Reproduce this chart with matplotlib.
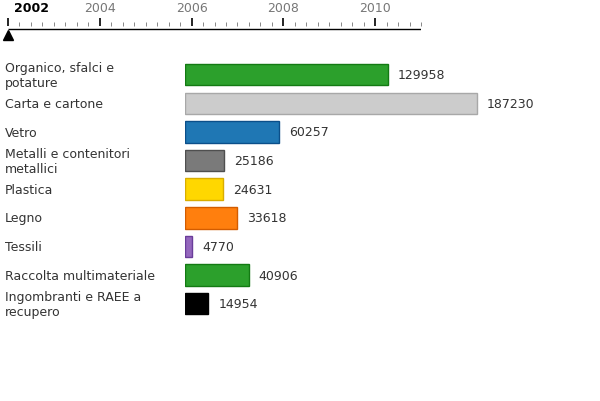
import matplotlib.pyplot as plt
import numpy as np

# dati
categorie = ["Organico, sfalci e\npotature", "Carta e cartone", "Vetro",
             "Metalli e contenitori\nmetallici", "Plastica", "Legno", "Tessili",
             "Raccolta multimateriale", "Ingombranti e RAEE a\nrecupero"]
valori = [129958, 187230, 60257, 25186, 24631, 33618, 4770, 40906, 14954]
colori = ["#2ca02c", "#cccccc", "#1f77b4", "#7a7a7a", "#ffd700", "#ff7f0e",
          "#9467bd", "#2ca02c", "#000000"]
bordi = ["#137a13", "#a8a8a8", "#0b4f8a", "#4f4f4f", "#d9ad00", "#d35c00",
         "#6a3d9a", "#137a13", "#000000"]
anni = [2002, 2004, 2006, 2008, 2010]
anno_corrente = 2002
anno_min, anno_max = 2002, 2011

W, H = 600, 402
fig = plt.figure(figsize=(W / 100, H / 100), dpi=100)

# timeline in alto
tl = fig.add_axes([8 / W, 1 - 45 / H, 413 / W, 45 / H])
tl.set_xlim(anno_min, anno_max)
tl.set_ylim(45, 0)
tl.axis("off")
tl.plot([anno_min, anno_max], [29.5, 29.5], color="black", lw=1.0, solid_capstyle="butt")
quarti = np.arange(anno_min, anno_max + 0.01, 0.25)
for q in quarti:
    if abs(q - round(q)) < 1e-6 and int(round(q)) % 2 == 0:
        tl.plot([q, q], [19, 27], color="black", lw=1.2, clip_on=False,
                solid_capstyle="butt")
    else:
        tl.plot([q, q], [23, 26.5], color="#888888", lw=0.7, clip_on=False,
                solid_capstyle="butt")
for a in anni:
    if a == anno_corrente:
        # l'etichetta dell'anno corrente e' spostata a destra
        tl.text(a + 0.13, 8.5, str(a), ha="left", va="center", fontsize=9,
                fontweight="bold", color="black")
    else:
        tl.text(a, 8.5, str(a), ha="center", va="center", fontsize=9, color="#777777")
tl.plot([anno_corrente], [35.5], marker="^", color="black", markersize=7, clip_on=False)

# barre
scala = 292 / max(valori)
larg_px = 400
ax = fig.add_axes([185 / W, 1 - 319 / H, larg_px / W, (9 * 28.625) / H])
ax.set_xlim(0, larg_px / scala)
ax.set_ylim(8.5, -0.5)
ax.axis("off")
y = np.arange(len(valori))
ax.barh(y, valori, height=0.75, color=colori, edgecolor=bordi, linewidth=1)
for i, v in enumerate(valori):
    ax.text(v + 10 / scala, i, str(v), va="center", ha="left", fontsize=9, color="#333333")

for i, c in enumerate(categorie):
    fig.text(5 / W, 1 - (75.8 + i * 28.625) / H, c, ha="left", va="center",
             fontsize=9, color="#333333", linespacing=1.2)

fig.savefig("out.png", dpi=100)
